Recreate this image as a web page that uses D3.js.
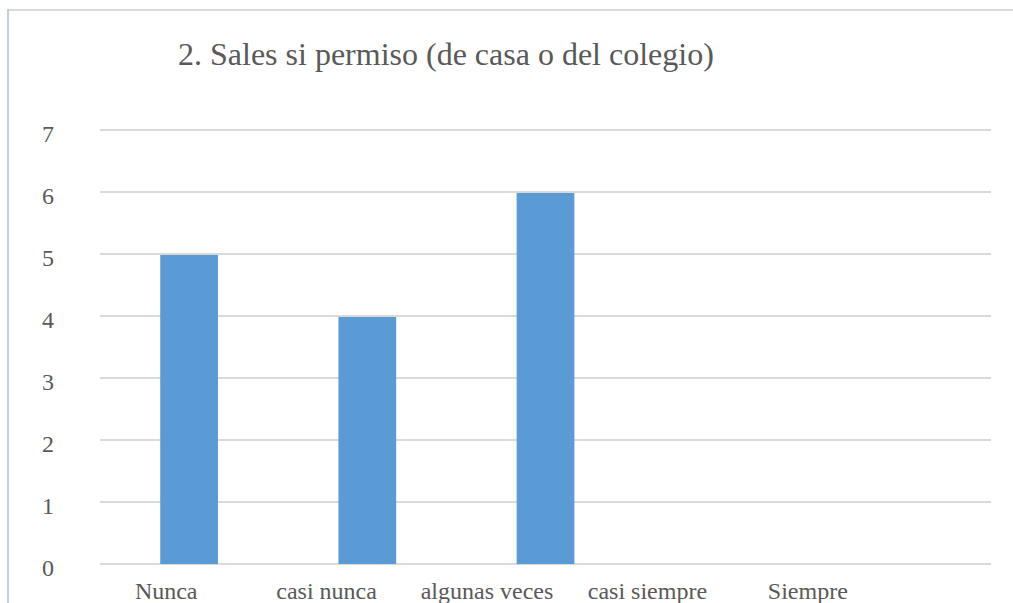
<!DOCTYPE html>
<html>
<head>
<meta charset="utf-8">
<script src="https://cdn.jsdelivr.net/npm/d3@7"></script>
<style>
  body { margin: 0; background: #fff; }
  text { font-family: "Liberation Serif", "Times New Roman", serif; fill: #595959; }
</style>
</head>
<body>
<svg></svg>
<script>
var WIDTH = 1013;
var HEIGHT = 603;

var titleText = "2. Sales si permiso (de casa o del colegio)";
var categories = ["Nunca", "casi nunca", "algunas veces", "casi siempre", "Siempre"];
var values = [5, 4, 6, 0, 0];
var yTicks = [0, 1, 2, 3, 4, 5, 6, 7];

var svg = d3.select("svg")
    .attr("width", WIDTH)
    .attr("height", HEIGHT);

// chart frame (only top and left edges show in the crop)
svg.append("line")
    .attr("x1", 8).attr("x2", WIDTH).attr("y1", 10).attr("y2", 10)
    .attr("stroke", "#d9d9d9").attr("stroke-width", 2);
svg.append("line")
    .attr("x1", 8).attr("x2", 8).attr("y1", 9).attr("y2", HEIGHT)
    .attr("stroke", "#bcd0e6").attr("stroke-width", 2);

var x = d3.scaleBand()
    .domain(categories)
    .range([100, 991])
    .paddingInner(0.676)
    .paddingOuter(0.338);

// labels sit a bit off the bars in the original
var xLabel = d3.scaleBand()
    .domain(categories)
    .range([86, 888]);

var y = d3.scaleLinear()
    .domain([0, 7])
    .range([564, 130]);

svg.append("text")
    .attr("x", 178)
    .attr("y", 65)
    .attr("font-size", 32)
    .text(titleText);

svg.append("g")
    .selectAll("line")
    .data(yTicks)
    .enter()
    .append("line")
    .attr("x1", 100)
    .attr("x2", 991)
    .attr("y1", function(d) { return y(d); })
    .attr("y2", function(d) { return y(d); })
    .attr("stroke", "#d9d9d9")
    .attr("stroke-width", 2);

svg.append("g")
    .selectAll("text")
    .data(yTicks)
    .enter()
    .append("text")
    .attr("x", 54)
    .attr("y", function(d) { return y(d) + 12; })
    .attr("text-anchor", "end")
    .attr("font-size", 24)
    .text(function(d) { return d; });

svg.append("g")
    .selectAll("rect")
    .data(values)
    .enter()
    .append("rect")
    .attr("x", function(d, i) { return x(categories[i]); })
    .attr("width", x.bandwidth())
    .attr("y", function(d) { return y(d) + 1; })
    .attr("height", function(d) { return Math.max(0, y(0) - y(d) - 1); })
    .attr("fill", "#5b9bd5");

svg.append("g")
    .selectAll("text")
    .data(categories)
    .enter()
    .append("text")
    .attr("x", function(d) { return xLabel(d) + xLabel.bandwidth() / 2; })
    .attr("y", 599)
    .attr("text-anchor", "middle")
    .attr("font-size", 24)
    .text(function(d) { return d; });
</script>
</body>
</html>
